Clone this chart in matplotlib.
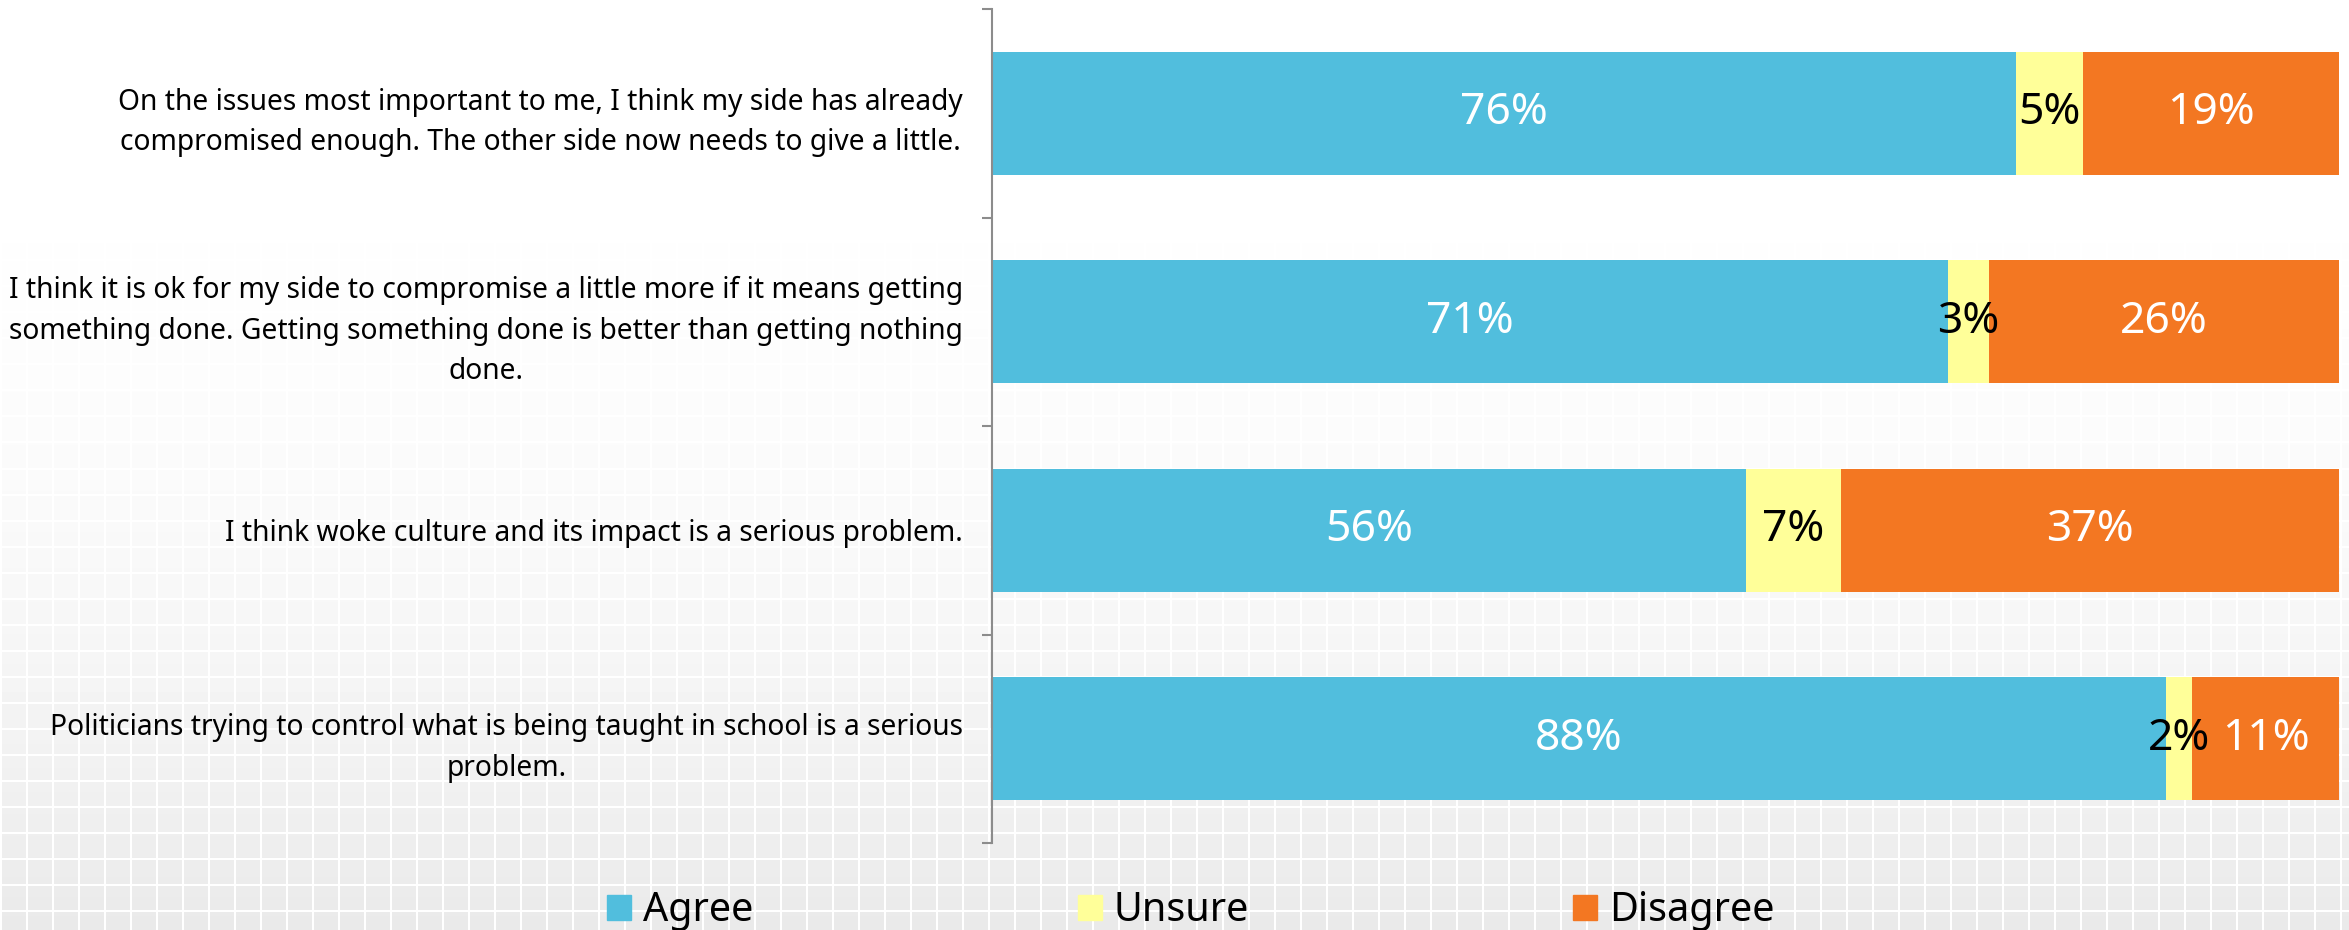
import numpy as np
import matplotlib.pyplot as plt
import matplotlib.patches as mpatches

plt.rcParams['font.family'] = ['Noto Sans', 'DejaVu Sans']

# ── Data ─────────────────────────────────────────────────────
statements = [
    'On the issues most important to me, I think my side has already\n'
    'compromised enough. The other side now needs to give a little.',
    'I think it is ok for my side to compromise a little more if it means getting\n'
    'something done. Getting something done is better than getting nothing\n'
    'done.',
    'I think woke culture and its impact is a serious problem.',
    'Politicians trying to control what is being taught in school is a serious\n'
    'problem.',
]
series_names = ['Agree', 'Unsure', 'Disagree']
agree = [76, 71, 56, 88]
unsure = [5, 3, 7, 2]
disagree = [19, 26, 37, 11]

COLORS = ['#51BEDD', '#FFFF99', '#F37722']
LABEL_COLORS = ['white', 'black', 'white']

fig = plt.figure(figsize=(23.49, 9.30), dpi=100)

# ── Light mosaic background ──────────────────────────────────
H, W = 930, 2349
cell = 26
yy = np.arange(H)[:, None]
xx = np.arange(W)[None, :]
shade = 1 - 0.085 * (yy / H) ** 2.3 * np.ones((1, W))
gaps = ((yy % cell) < 2) | ((xx % cell) < 2)
shade = np.where(gaps, 1.0, shade)
bg_ax = fig.add_axes([0, 0, 1, 1], zorder=-1)
bg_ax.imshow(shade, cmap='gray', vmin=0, vmax=1, aspect='auto', interpolation='nearest')
bg_ax.axis('off')

# ── Stacked 100% bars ────────────────────────────────────────
ax = fig.add_axes([0.4223, 0.0935, 0.9957 - 0.4223, 0.9903 - 0.0935])
ax.set_facecolor('none')

values = np.array([agree, unsure, disagree], dtype=float)
shares = values / values.sum(axis=0) * 100
y = np.arange(len(statements))

left = np.zeros(len(statements))
for i, name in enumerate(series_names):
    ax.barh(y, shares[i], left=left, height=0.59, color=COLORS[i],
            label=name, edgecolor='none')
    for j in range(len(statements)):
        ax.text(left[j] + shares[i][j] / 2, y[j], f'{int(values[i][j])}%',
                ha='center', va='center', fontsize=32, color=LABEL_COLORS[i])
    left += shares[i]

ax.set_xlim(0, 100)
ax.set_ylim(len(statements) - 0.5, -0.5)
ax.set_xticks([])

ax.set_yticks(y)
ax.set_yticklabels(statements, fontsize=20.3, multialignment='center',
                   linespacing=1.53)
ax.tick_params(axis='y', which='major', length=0, pad=21)
ax.set_yticks(np.arange(-0.5, len(statements)), minor=True)
ax.tick_params(axis='y', which='minor', length=7, width=1.5, color='#8c8c8c')

for side in ['top', 'right', 'bottom']:
    ax.spines[side].set_visible(False)
ax.spines['left'].set_color('#8c8c8c')
ax.spines['left'].set_linewidth(1.5)

# ── Legend ───────────────────────────────────────────────────
handles = [mpatches.Patch(color=c, label=n) for c, n in zip(COLORS, series_names)]
fig.legend(handles=handles, loc='center', bbox_to_anchor=(0.507, 0.02),
           ncol=3, frameon=False, fontsize=28.5, handlelength=0.6,
           handleheight=0.6, handletextpad=0.3, columnspacing=8.2)

fig.savefig('out.png', dpi=100)
